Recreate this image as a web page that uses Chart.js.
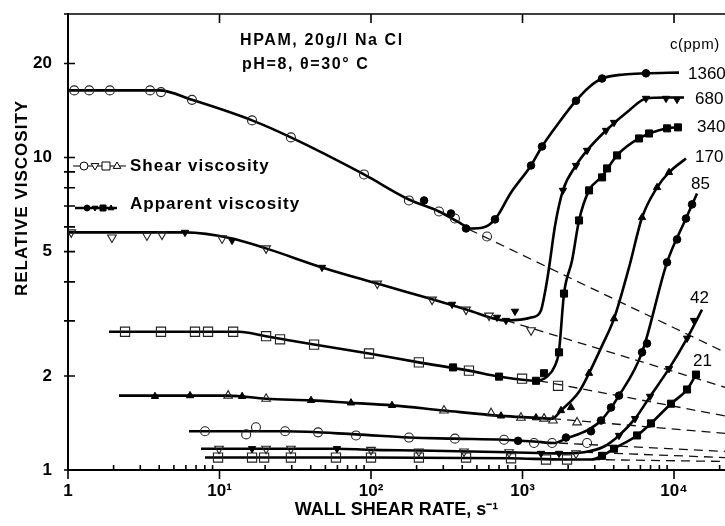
<!DOCTYPE html>
<html>
<head>
<meta charset="utf-8">
<script src="https://cdn.jsdelivr.net/npm/chart.js@4/dist/chart.umd.min.js"></script>
<style>
    html, body { margin: 0; padding: 0; background: #fff; }
    #wrap { width: 725px; height: 526px; }
</style>
</head>
<body>
<div id="wrap"><canvas id="viscosity-chart" width="725" height="526"></canvas></div>
<script>
// [wall shear rate (1/s), relative viscosity]
const shear1360 = [[1.10, 16.4], [1.38, 16.4], [1.89, 16.4], [3.48, 16.4], [4.11, 16.2], [6.58, 15.3], [16.4, 13.15], [29.6, 11.6], [89.9, 8.83], [178, 7.29], [281, 6.72], [358, 6.38], [583, 5.59]];
const apparent1360 = [[224, 7.29], [337, 6.62], [424, 5.93], [658, 6.34], [1138, 9.43], [1345, 10.85], [2254, 15.2], [3350, 17.9], [6531, 18.6]];
const curve1360 = [[1, 16.4], [4.0, 16.4], [6.58, 15.3], [16.4, 13.15], [29.6, 11.6], [89.9, 8.83], [178, 7.34], [281, 6.72], [381, 6.20], [457, 5.93], [548, 5.97], [658, 6.34], [840, 7.73], [1138, 9.43], [1345, 10.85], [1742, 12.95], [2254, 15.2], [2748, 16.8], [3350, 17.9], [4677, 18.45], [6531, 18.6], [10790, 18.7]];
const dashed1360 = [[443, 5.89], [21700, 2.38]];

const shear680 = [[1.05, 5.76], [1.95, 5.55], [3.32, 5.63], [4.17, 5.67], [10.4, 5.51], [20.3, 5.12], [110, 3.95], [253, 3.51], [424, 3.26], [601, 3.12], [1138, 2.80]];
const apparent680 = [[5.92, 5.76], [12.1, 5.43], [47.5, 4.45], [343, 3.39], [679, 3.08], [778, 3.01], [892, 3.22], [1849, 7.85], [2254, 9.43], [2667, 10.54], [3556, 12.21], [4018, 12.95], [6531, 15.46], [8855, 15.46], [10470, 15.35]];
const curve680 = [[1, 5.76], [5.92, 5.76], [12.1, 5.51], [20.3, 5.12], [47.5, 4.45], [110, 3.95], [257, 3.51], [430, 3.26], [778, 3.01], [1155, 3.08], [1324, 3.24], [1387, 3.57], [1452, 4.04], [1520, 4.68], [1640, 6.06], [1849, 7.85], [2254, 9.43], [2667, 10.54], [3556, 12.21], [5047, 14.15], [6531, 15.46], [8855, 15.57], [11640, 15.57]];
const dashed680 = [[778, 3.01], [21700, 1.84]];

const shear340 = [[2.38, 2.77], [4.11, 2.77], [6.89, 2.77], [8.40, 2.77], [12.3, 2.77], [20.3, 2.68], [25.1, 2.62], [42.1, 2.52], [97, 2.36], [207, 2.21], [443, 2.08], [993, 1.96], [1716, 1.86]];
const apparent340 = [[348, 2.13], [700, 1.99], [1228, 1.93], [1387, 2.04], [1742, 2.38], [1879, 3.67], [2360, 6.29], [2748, 7.85], [3350, 8.64], [3614, 9.23], [4207, 10.16], [5875, 11.51], [6839, 11.94], [8995, 12.40], [10620, 12.49]];
const curve340 = [[1.865, 2.77], [13.45, 2.77], [20.3, 2.68], [42.1, 2.52], [97, 2.36], [207, 2.21], [443, 2.08], [700, 1.99], [1228, 1.93], [1452, 1.99], [1640, 2.16], [1742, 2.41], [1879, 3.67], [2123, 4.68], [2360, 6.29], [2748, 7.85], [3350, 8.70], [4207, 10.16], [5875, 11.51], [8995, 12.40], [10790, 12.49]];
const dashed340 = [[1285, 1.93], [21700, 1.49]];

const shear170 = [[11.4, 1.73], [20.3, 1.69], [303, 1.55], [620, 1.52], [977, 1.47], [1387, 1.46], [1589, 1.44], [2291, 1.42]];
const apparent170 = [[3.75, 1.72], [6.39, 1.73], [14.1, 1.72], [40.2, 1.67], [73.8, 1.64], [137.6, 1.61], [721, 1.49], [1228, 1.47], [1795, 1.55], [2089, 1.585], [2748, 2.04], [4018, 3.05], [6152, 6.43], [7727, 8.02], [9268, 8.96]];
const curve170 = [[2.17, 1.73], [11.4, 1.73], [20.3, 1.69], [40.2, 1.67], [73.8, 1.64], [137.6, 1.61], [303, 1.55], [721, 1.49], [1228, 1.47], [1567, 1.46], [1795, 1.55], [2360, 1.78], [2748, 2.04], [3350, 2.50], [4018, 3.05], [5047, 4.45], [6152, 6.43], [7727, 8.02], [9268, 8.96], [11990, 9.93]];
const dashed170 = [[1567, 1.46], [21700, 1.31]];

const shear85 = [[8.02, 1.33], [15.0, 1.30], [17.4, 1.37], [27.1, 1.33], [44.7, 1.32], [79.6, 1.29], [178, 1.27], [358, 1.26], [755, 1.25], [1191, 1.22], [1567, 1.22], [2667, 1.22]];
const apparent85 = [[934, 1.24], [1936, 1.27], [2831, 1.33], [3296, 1.44], [3837, 1.585], [4335, 1.73], [6152, 2.38], [6637, 2.54], [8995, 4.62], [10470, 5.47], [11990, 6.38], [13150, 7.08]];
const curve85 = [[6.29, 1.33], [27.1, 1.33], [79.6, 1.30], [178, 1.27], [358, 1.26], [755, 1.25], [1191, 1.234], [1614, 1.22], [1936, 1.26], [2748, 1.35], [3296, 1.44], [4335, 1.73], [6152, 2.38], [8995, 4.62], [11990, 6.38], [14190, 7.67]];
const dashed85 = [[1742, 1.22], [21700, 1.146]];

const shear42 = [[9.93, 1.17], [20.3, 1.17], [29.6, 1.17], [100, 1.16], [207, 1.146], [411, 1.146], [815, 1.14], [2254, 1.13]];
const apparent42 = [[16.4, 1.17], [59.6, 1.17], [1324, 1.13], [1742, 1.13], [4335, 1.29], [5530, 1.46], [6948, 1.72], [9268, 2.11], [12190, 2.64], [13550, 3.01]];
const curve42 = [[7.55, 1.17], [59.6, 1.17], [100, 1.16], [207, 1.155], [815, 1.14], [1742, 1.13], [2547, 1.14], [3451, 1.189], [4335, 1.29], [5530, 1.46], [6948, 1.72], [9268, 2.11], [12190, 2.64], [15310, 3.26]];
const dashed42 = [[2547, 1.14], [21700, 1.096]];

const shear21 = [[9.78, 1.096], [16.4, 1.096], [19.7, 1.096], [29.6, 1.096], [58.7, 1.096], [100, 1.096], [207, 1.096], [424, 1.096], [840, 1.09], [1429, 1.08], [1967, 1.08]];
const apparent21 = [[3350, 1.11], [4018, 1.17], [5702, 1.29], [7047, 1.41], [9550, 1.63], [12190, 1.81], [13960, 2.02]];
const curve21 = [[8.02, 1.096], [100, 1.096], [840, 1.09], [1967, 1.08], [2831, 1.08], [3350, 1.11], [4018, 1.17], [5702, 1.29], [7047, 1.41], [9550, 1.63], [12190, 1.81], [13960, 2.02]];
const dashed21 = [[2831, 1.08], [21700, 1.065]];

const concentrations = ['1360', '680', '340', '170', '85', '42', '21'];
const xTickValues = [1, 10, 100, 1000, 10000];
const xTickLabels = ['1', '10\u00b9', '10\u00b2', '10\u00b3', '10\u2074'];
const yTickValues = [1, 2, 5, 10, 20];
const yTickLabels = ['1', '2', '5', '10', '20'];
const yMinorValues = [3, 4, 6, 7, 8, 9];

const conditionLines = ['HPAM, 20g/l Na Cl', 'pH=8, \u03b8=30\u00b0 C'];
const legendLabels = ['Shear viscosity', 'Apparent viscosity'];

const FONT = '"Liberation Sans", Arial, sans-serif';

const series = [
    { name: '1360', shear: shear1360, apparent: apparent1360, curve: curve1360, dashed: dashed1360, marker: 'circle' },
    { name: '680', shear: shear680, apparent: apparent680, curve: curve680, dashed: dashed680, marker: 'triDown' },
    { name: '340', shear: shear340, apparent: apparent340, curve: curve340, dashed: dashed340, marker: 'rect' },
    { name: '170', shear: shear170, apparent: apparent170, curve: curve170, dashed: dashed170, marker: 'triangle' },
    { name: '85', shear: shear85, apparent: apparent85, curve: curve85, dashed: dashed85, marker: 'circle' },
    { name: '42', shear: shear42, apparent: apparent42, curve: curve42, dashed: dashed42, marker: 'triDown' },
    { name: '21', shear: shear21, apparent: apparent21, curve: curve21, dashed: dashed21, marker: 'rect' }
];

// label placement for each concentration (left x, middle y, in px)
const concLabelPos = [[688, 74], [695, 99], [697, 127], [695, 157], [691, 184], [690, 298], [693, 361]];

const markerLook = {
    circle: { pointStyle: 'circle', radius: 4.5, filledRadius: 3.8, rotation: 0 },
    triDown: { pointStyle: 'triangle', radius: 5, filledRadius: 4.2, rotation: 180 },
    triangle: { pointStyle: 'triangle', radius: 5, filledRadius: 4.2, rotation: 0 },
    rect: { pointStyle: 'rect', radius: 6.5, filledRadius: 5, rotation: 0 }
};

const toPoints = (pairs) => pairs.map(([x, y]) => ({ x, y }));

const datasets = [];
series.forEach((s) => {
    datasets.push({
        data: toPoints(s.curve),
        showLine: true,
        borderColor: '#000',
        borderWidth: 2.6,
        pointRadius: 0,
        cubicInterpolationMode: 'monotone',
        order: 3
    });
    datasets.push({
        data: toPoints(s.dashed),
        showLine: true,
        borderColor: '#111',
        borderWidth: 1.3,
        borderDash: [9, 6],
        pointRadius: 0,
        order: 3
    });
    const look = markerLook[s.marker];
    datasets.push({
        data: toPoints(s.shear),
        showLine: false,
        pointStyle: look.pointStyle,
        pointRadius: look.radius,
        pointRotation: look.rotation,
        pointBackgroundColor: 'rgba(255,255,255,0)',
        pointBorderColor: '#222',
        pointBorderWidth: 1.1,
        order: 1
    });
    datasets.push({
        data: toPoints(s.apparent),
        showLine: false,
        pointStyle: look.pointStyle,
        pointRadius: look.filledRadius,
        pointRotation: look.rotation,
        pointBackgroundColor: '#000',
        pointBorderColor: '#000',
        pointBorderWidth: 1,
        order: 1
    });
});

function drawMarker(ctx, kind, x, y, r, filled) {
    ctx.beginPath();
    if (kind === 'circle') {
        ctx.arc(x, y, r, 0, Math.PI * 2);
    } else if (kind === 'rect') {
        ctx.rect(x - r, y - r, 2 * r, 2 * r);
    } else {
        const dir = kind === 'triDown' ? 1 : -1;
        ctx.moveTo(x, y + dir * r);
        ctx.lineTo(x - r * 0.95, y - dir * r * 0.6);
        ctx.lineTo(x + r * 0.95, y - dir * r * 0.6);
        ctx.closePath();
    }
    ctx.fillStyle = filled ? '#000' : '#fff';
    ctx.fill();
    ctx.stroke();
}

function noScalePadding(scale) {
    scale.paddingTop = 0;
    scale.paddingBottom = 0;
    scale.paddingLeft = 0;
    scale.paddingRight = 0;
}

const axisMarks = {
    id: 'axisMarks',
    afterDraw(chart) {
        const { ctx, chartArea: area, scales: { x, y } } = chart;
        ctx.save();
        ctx.strokeStyle = '#000';
        ctx.lineWidth = 1.6;
        ctx.beginPath();
        ctx.moveTo(area.left - 4, area.top);
        ctx.lineTo(area.right, area.top);
        for (let d = 1; d <= 10000; d *= 10) {
            for (let m = 2; m <= 9; m++) {
                const px = x.getPixelForValue(d * m);
                if (px > area.right) continue;
                ctx.moveTo(px, area.bottom);
                ctx.lineTo(px, area.bottom - 5);
            }
        }
        xTickValues.forEach((v) => {
            const px = x.getPixelForValue(v);
            ctx.moveTo(px, area.bottom);
            ctx.lineTo(px, area.bottom + 9);
            if (v > 1) {
                ctx.moveTo(px, area.top);
                ctx.lineTo(px, area.top + 9);
            }
        });
        yTickValues.concat(yMinorValues).forEach((v) => {
            const py = y.getPixelForValue(v);
            ctx.moveTo(area.left - 4, py);
            ctx.lineTo(area.left + 7, py);
        });
        ctx.stroke();
        ctx.restore();
    }
};

const annotations = {
    id: 'annotations',
    afterDraw(chart) {
        const ctx = chart.ctx;
        ctx.save();
        ctx.fillStyle = '#000';
        ctx.textBaseline = 'middle';
        ctx.textAlign = 'left';

        ctx.font = `bold 16px ${FONT}`;
        ctx.letterSpacing = '1.6px';
        ctx.fillText(conditionLines[0], 240, 41);
        ctx.fillText(conditionLines[1], 242, 65);

        ctx.letterSpacing = '0.5px';
        ctx.font = `15px ${FONT}`;
        ctx.fillText('c(ppm)', 670, 45);

        ctx.font = `17px ${FONT}`;
        ctx.letterSpacing = '0px';
        concentrations.forEach((c, i) => {
            ctx.fillText(c, concLabelPos[i][0], concLabelPos[i][1]);
        });

        // legend
        ctx.font = `bold 17px ${FONT}`;
        ctx.letterSpacing = '1px';
        ctx.fillText(legendLabels[0], 130, 166);
        ctx.fillText(legendLabels[1], 130, 204);
        ctx.strokeStyle = '#000';
        ctx.lineWidth = 1.2;
        ctx.beginPath();
        ctx.moveTo(73, 166);
        ctx.lineTo(126, 166);
        ctx.stroke();
        ctx.lineWidth = 2.4;
        ctx.beginPath();
        ctx.moveTo(75, 208);
        ctx.lineTo(117, 208);
        ctx.stroke();
        ctx.lineWidth = 1;
        ['circle', 'triDown', 'rect', 'triangle'].forEach((k, i) => {
            drawMarker(ctx, k, 84 + i * 11, 166, 4, false);
            drawMarker(ctx, k, 87 + i * 8, 208, 3, true);
        });

        // y axis title
        ctx.save();
        ctx.translate(22, 198);
        ctx.rotate(-Math.PI / 2);
        ctx.textAlign = 'center';
        ctx.font = `bold 17px ${FONT}`;
        ctx.letterSpacing = '1px';
        ctx.fillText('RELATIVE VISCOSITY', 0, 0);
        ctx.restore();
        ctx.restore();
    }
};

new Chart(document.getElementById('viscosity-chart'), {
    type: 'scatter',
    data: { datasets },
    options: {
        responsive: false,
        animation: false,
        events: [],
        layout: { autoPadding: false, padding: { top: 14, right: 0, left: 0, bottom: 0 } },
        plugins: {
            legend: { display: false },
            tooltip: { enabled: false }
        },
        scales: {
            x: {
                type: 'logarithmic',
                min: 1,
                max: 21700,
                afterBuildTicks: (scale) => {
                    scale.ticks = xTickValues.map((v) => ({ value: v, major: true }));
                },
                afterFit: (scale) => {
                    scale.height = 56;
                    noScalePadding(scale);
                },
                grid: { display: false, drawTicks: false },
                border: { display: true, color: '#000', width: 2 },
                ticks: {
                    autoSkip: false,
                    maxRotation: 0,
                    padding: 11,
                    color: '#000',
                    font: { family: FONT, size: 17, weight: 'bold' },
                    callback: (value, index) => xTickLabels[index]
                },
                title: {
                    display: true,
                    text: 'WALL SHEAR RATE, s\u207b\u00b9',
                    color: '#000',
                    font: { family: FONT, size: 18, weight: 'bold' },
                    padding: { top: 0, bottom: 5 }
                }
            },
            y: {
                type: 'logarithmic',
                min: 1,
                max: 28.8,
                afterBuildTicks: (scale) => {
                    scale.ticks = yTickValues.map((v) => ({ value: v, major: true }));
                },
                afterFit: (scale) => {
                    scale.width = 68;
                    noScalePadding(scale);
                },
                grid: { display: false, drawTicks: false },
                border: { display: true, color: '#000', width: 2 },
                ticks: {
                    autoSkip: false,
                    padding: 16,
                    color: '#000',
                    font: { family: FONT, size: 17, weight: 'bold' },
                    callback: (value, index) => yTickLabels[index]
                }
            }
        }
    },
    plugins: [axisMarks, annotations]
});
</script>
</body>
</html>
